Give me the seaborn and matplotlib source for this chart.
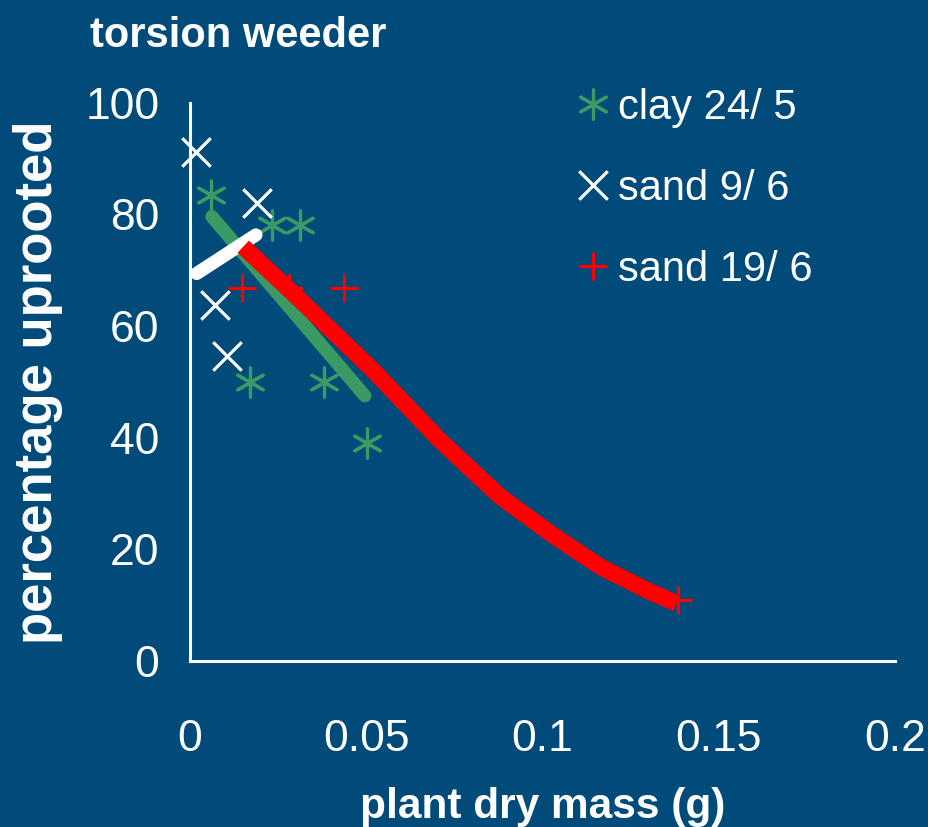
import matplotlib
matplotlib.use('Agg')
import matplotlib.pyplot as plt
import seaborn as sns

# colours
bg = '#004b7a'
green = '#3a9a64'
red = '#ff0000'
white = '#ffffff'

# measured points
clay_x = [0.0059, 0.0233, 0.0312, 0.0170, 0.0380, 0.0501]
clay_y = [83.5, 78.0, 78.0, 50.0, 50.0, 39.0]
sand9_x = [0.0017, 0.0189, 0.0071, 0.0104]
sand9_y = [91.1, 82.0, 63.7, 54.7]
sand19_x = [0.0148, 0.0281, 0.0437, 0.1385]
sand19_y = [66.8, 66.8, 66.8, 11.0]

# fitted curves
clay_fit_x = [0.0062, 0.0496]
clay_fit_y = [79.6, 47.5]
sand9_fit_x = [0.0019, 0.0187]
sand9_fit_y = [69.4, 76.3]
sand19_fit_x = [0.0151, 0.0303, 0.0520, 0.0709, 0.0879, 0.1021, 0.1163, 0.1305, 0.1381]
sand19_fit_y = [74.2, 65.2, 52.0, 39.5, 29.5, 22.9, 16.9, 12.4, 10.3]

xticks = [0, 0.05, 0.1, 0.15, 0.2]
xtick_labels = ['0', '0.05', '0.1', '0.15', '0.2']
yticks = [0, 20, 40, 60, 80, 100]
ytick_labels = ['0', '20', '40', '60', '80', '100']

sns.set_theme(style='white')
plt.rcParams['font.family'] = ['Liberation Sans', 'DejaVu Sans']

fig = plt.figure(figsize=(9.29, 8.27), dpi=100, facecolor=bg)
ax = fig.add_axes([190 / 929, 1 - 661 / 827, 705 / 929, 558.4 / 827])
ax.set_facecolor(bg)

asterisk = (6, 2, 0)
sns.scatterplot(x=clay_x, y=clay_y, marker=asterisk, color=green, s=440,
                linewidth=2.3, label='clay 24/ 5', ax=ax, clip_on=False, zorder=2)
sns.scatterplot(x=sand9_x, y=sand9_y, marker='x', color=white, s=420,
                linewidth=2.3, label='sand 9/ 6', ax=ax, clip_on=False, zorder=2)
sns.scatterplot(x=sand19_x, y=sand19_y, marker='+', color=red, s=420,
                linewidth=2.3, label='sand 19/ 6', ax=ax, clip_on=False, zorder=2)

sns.lineplot(x=clay_fit_x, y=clay_fit_y, color=green, lw=9.5, sort=False,
             estimator=None, solid_capstyle='round', ax=ax, zorder=3)
sns.lineplot(x=sand9_fit_x, y=sand9_fit_y, color=white, lw=9.5, sort=False,
             estimator=None, solid_capstyle='round', ax=ax, zorder=4)
sns.lineplot(x=sand19_fit_x, y=sand19_fit_y, color=red, lw=12, sort=False,
             estimator=None, solid_capstyle='butt', solid_joinstyle='round',
             ax=ax, zorder=5)

ax.set_xlim(0, 0.2)
ax.set_ylim(0, 100)
ax.set_xticks(xticks, xtick_labels)
ax.set_yticks(yticks, ytick_labels)

for side in ['top', 'right']:
    ax.spines[side].set_visible(False)
for side in ['left', 'bottom']:
    ax.spines[side].set_color(white)
    ax.spines[side].set_linewidth(2.2)

ax.tick_params(axis='both', colors=white, width=2.2, length=12,
               direction='out', labelsize=32)
ax.tick_params(axis='x', pad=30)
ax.tick_params(axis='y', pad=10)

ax.set_xlabel('plant dry mass (g)', color=white, fontsize=30.5,
              fontweight='bold', labelpad=19)
ax.set_ylabel('percentage uprooted', color=white, fontsize=38,
              fontweight='bold', labelpad=16)

fig.text(90 / 929, 1 - 47 / 827, 'torsion weeder', color=white, fontsize=30,
         fontweight='bold', ha='left', va='baseline')

leg = ax.legend(loc='upper left', bbox_to_anchor=(578 / 929, 1 - 88 / 827),
                bbox_transform=fig.transFigure, frameon=False, fontsize=30,
                handlelength=0.7, handletextpad=0.25, labelspacing=0.98,
                borderpad=0, borderaxespad=0, scatterpoints=1,
                scatteryoffsets=[0.5])
for t in leg.get_texts():
    t.set_color(white)

plt.savefig('out.png', dpi=100, facecolor=bg)
plt.close()
